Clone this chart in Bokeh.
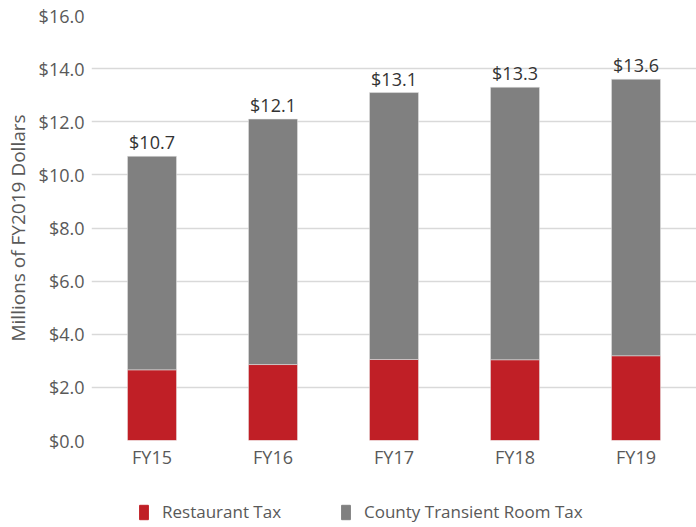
from bokeh.plotting import figure
from bokeh.models import ColumnDataSource, Legend, LegendItem, SingleIntervalTicker, NumeralTickFormatter, LabelSet
from bokeh.layouts import column
from bokeh.core.properties import value
from bokeh.embed import file_html
from bokeh.resources import INLINE

years = ["FY15", "FY16", "FY17", "FY18", "FY19"]
restaurant = [2.66, 2.86, 3.05, 3.04, 3.19]
totals = [10.7, 12.1, 13.1, 13.3, 13.6]
labels = ["$10.7", "$12.1", "$13.1", "$13.3", "$13.6"]
room = [round(t - r, 2) for t, r in zip(totals, restaurant)]
series_names = ["Restaurant Tax", "County Transient Room Tax"]

RED = "#C01F26"
GRAY = "#808080"
FONT = "Open Sans"

src = ColumnDataSource(dict(x=years, restaurant=restaurant, room=room, total=totals, label=labels))

p = figure(width=696, height=485, x_range=years, y_range=(0, 16),
           output_backend="svg", toolbar_location=None,
           min_border_left=91, min_border_right=0, min_border_top=15, min_border_bottom=45)
p.outline_line_color = None

rr = p.vbar_stack(["restaurant", "room"], x="x", width=0.405, color=[RED, GRAY],
                  line_color="#e6e6e6", line_width=0.5, source=src)

lbl = LabelSet(x="x", y="total", text="label", source=src, y_offset=2,
               text_align="center", text_baseline="bottom",
               text_font=value(FONT), text_font_size=value("18px"), text_color="#333333")
p.add_layout(lbl)

p.yaxis.ticker = SingleIntervalTicker(interval=2)
p.yaxis.formatter = NumeralTickFormatter(format="$0.0")
p.yaxis.axis_label = "Millions of FY2019 Dollars"
p.yaxis.axis_label_text_font = FONT
p.yaxis.axis_label_text_font_size = "19px"
p.yaxis.axis_label_text_font_style = "normal"
p.yaxis.axis_label_text_color = "#595959"
p.yaxis.axis_label_standoff = 5
for ax in (p.xaxis, p.yaxis):
    ax.axis_line_color = None
    ax.major_tick_line_color = None
    ax.minor_tick_line_color = None
    ax.major_tick_out = 0
    ax.major_label_text_font = FONT
    ax.major_label_text_font_size = "18px"
    ax.major_label_text_color = "#595959"
p.yaxis.major_label_standoff = 3
p.xaxis.major_label_standoff = 4

p.xgrid.grid_line_color = None
p.ygrid.grid_line_color = "#d9d9d9"
p.ygrid.grid_line_width = 1.5

# legend strip
lf = figure(width=696, height=42, x_range=(0, 1), y_range=(0, 1),
            output_backend="svg", toolbar_location=None,
            x_axis_location=None, y_axis_location=None,
            min_border_left=91, min_border_right=0, min_border_top=0, min_border_bottom=0)
lf.outline_line_color = None
lf.grid.visible = False
d1b = lf.vbar(x=[5], top=[5], width=0.1, color=RED)
d2b = lf.vbar(x=[5], top=[5], width=0.1, color=GRAY)

def mk_legend(label, r, x):
    lg = Legend(items=[LegendItem(label=label, renderers=[r])], location=(x, 4),
                orientation="horizontal", border_line_color=None, background_fill_alpha=0,
                padding=0, margin=0, glyph_width=11, glyph_height=18,
                label_height=18, label_standoff=13,
                label_text_font=FONT, label_text_font_size="17px",
                label_text_color="#595959")
    lf.add_layout(lg, "center")

mk_legend(series_names[0], d1b, 138 - 91)
mk_legend(series_names[1], d2b, 340 - 91)

layout = column(p, lf, spacing=0)
open("out.html", "w").write(file_html(layout, INLINE))
